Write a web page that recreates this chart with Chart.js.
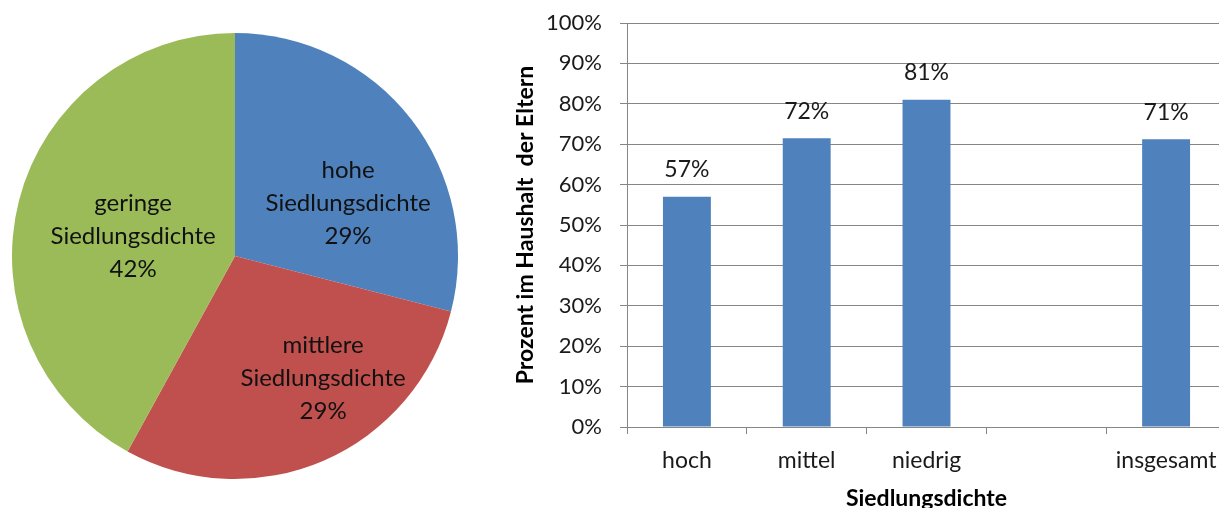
<!DOCTYPE html>
<html>
<head>
<meta charset="utf-8">
<script src="https://cdn.jsdelivr.net/npm/chart.js@4/dist/chart.umd.min.js"></script>
<style>
  html, body { margin: 0; padding: 0; background: #fff; overflow: hidden; width: 1219px; height: 508px; }
  #pieBox { position: absolute; left: 0; top: 0; width: 470px; height: 512px; }
  #barBox { position: absolute; left: 500px; top: 0; width: 726px; height: 512px; }
</style>
</head>
<body>
<div id="pieBox"><canvas id="pie"></canvas></div>
<div id="barBox"><canvas id="bar"></canvas></div>
<script>
// ---- data ----
const pieLabels = [["hohe", "Siedlungsdichte"], ["mittlere", "Siedlungsdichte"], ["geringe", "Siedlungsdichte"]];
const pieValues = [29, 29, 42];
const barCategories = ["hoch", "mittel", "niedrig", "", "insgesamt"];
const barValues = [57, 71.5, 81, null, 71.2];
const barValueLabels = ["57%", "72%", "81%", "", "71%"];
const yTickStep = 10;
const yMax = 100;
const xTitle = "Siedlungsdichte";
const yTitle = "Prozent im Haushalt  der Eltern";

const FONT = "Lato, 'Open Sans', sans-serif";

// pie label placement (fractions of radius, relative to centre)
const pieLabelOffsets = [[0.507, -0.238], [0.395, 0.547], [-0.457, -0.09]];

const pieLabelPlugin = {
  id: 'pieLabels',
  afterDatasetsDraw(chart) {
    const ctx = chart.ctx;
    const meta = chart.getDatasetMeta(0);
    const total = pieValues.reduce((a, b) => a + b, 0);
    ctx.save();
    ctx.font = "24px " + FONT;
    ctx.fillStyle = "#111";
    ctx.textAlign = "center";
    ctx.textBaseline = "middle";
    meta.data.forEach((arc, i) => {
      const r = arc.outerRadius;
      const cx = arc.x + pieLabelOffsets[i][0] * r;
      const cy = arc.y + pieLabelOffsets[i][1] * r;
      const lines = pieLabels[i].concat([Math.round(pieValues[i] / total * 100) + "%"]);
      const lh = 33;
      lines.forEach((t, k) => {
        ctx.fillText(t, cx, cy + (k - (lines.length - 1) / 2) * lh);
      });
    });
    ctx.restore();
  }
};

new Chart(document.getElementById('pie'), {
  type: 'pie',
  data: {
    labels: pieLabels.map(l => l.join(' ')),
    datasets: [{
      data: pieValues,
      backgroundColor: ['#4F81BD', '#C0504D', '#9BBB59'],
      borderWidth: 0
    }]
  },
  options: {
    responsive: true,
    maintainAspectRatio: false,
    animation: false,
    layout: { padding: 12 },
    plugins: { legend: { display: false }, tooltip: { enabled: false } }
  },
  plugins: [pieLabelPlugin]
});

const barLabelPlugin = {
  id: 'barLabels',
  afterDatasetsDraw(chart) {
    const ctx = chart.ctx;
    const meta = chart.getDatasetMeta(0);
    ctx.save();
    ctx.font = "23px " + FONT;
    ctx.fillStyle = "#1a1a1a";
    ctx.textAlign = "center";
    ctx.textBaseline = "middle";
    meta.data.forEach((bar, i) => {
      if (barValues[i] == null) return;
      ctx.fillText(barValueLabels[i], bar.x, bar.y - 27);
    });
    ctx.restore();
  }
};

new Chart(document.getElementById('bar'), {
  type: 'bar',
  data: {
    labels: barCategories,
    datasets: [{
      data: barValues,
      backgroundColor: '#4F81BD',
      borderWidth: 0,
      categoryPercentage: 1,
      barPercentage: 0.4
    }]
  },
  options: {
    responsive: true,
    maintainAspectRatio: false,
    animation: false,
    layout: { padding: { top: 23, right: 0, left: 0, bottom: 0 } },
    plugins: { legend: { display: false }, tooltip: { enabled: false } },
    scales: {
      x: {
        afterFit(s) { s.height = 85; s.paddingLeft = 0; s.paddingRight = 0; },
        grid: { display: true, drawOnChartArea: false, drawTicks: true, tickLength: 7, color: '#868686', offset: true },
        border: { color: '#868686', width: 1 },
        ticks: { color: '#1a1a1a', font: { family: FONT, size: 23 }, padding: 13 },
        title: { display: true, text: xTitle, color: '#000', font: { family: FONT, size: 23, weight: 'bold' }, padding: { top: 6, bottom: 0 } }
      },
      y: {
        min: 0, max: yMax,
        afterFit(s) { s.width = 127; s.paddingTop = 0; s.paddingBottom = 0; },
        grid: { color: '#868686', tickLength: 7, drawTicks: true },
        border: { color: '#868686', width: 1 },
        ticks: { stepSize: yTickStep, color: '#1a1a1a', font: { family: FONT, size: 22 }, padding: 18, callback: v => v + '%' },
        title: { display: true, text: yTitle, color: '#000', font: { family: FONT, size: 23, weight: 'bold' }, padding: { top: 12, bottom: 0 } }
      }
    }
  },
  plugins: [barLabelPlugin]
});
</script>
</body>
</html>
